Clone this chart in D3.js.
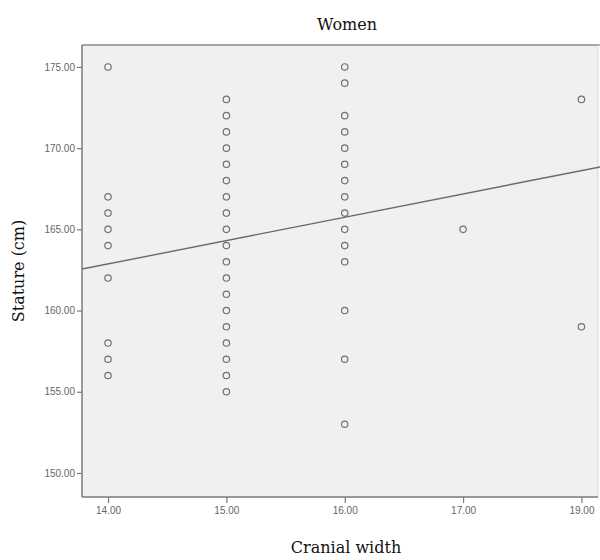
<!DOCTYPE html>
<html>
<head>
<meta charset="utf-8">
<script src="https://cdn.jsdelivr.net/npm/d3@7"></script>
<style>
  html, body { margin: 0; padding: 0; background: #fff; }
  svg { display: block; }
</style>
</head>
<body>
<svg id="chart" width="600" height="560"></svg>
<script>
// ---- Data ----
const xCategories = [14, 15, 16, 17, 19];          // cranial width categories (axis positions in order)
const yTicks = [150, 155, 160, 165, 170, 175];      // stature tick values
const stature14 = [175, 167, 166, 165, 164, 162, 158, 157, 156];
const stature15 = [173, 172, 171, 170, 169, 168, 167, 166, 165, 164, 163, 162, 161, 160, 159, 158, 157, 156, 155];
const stature16 = [175, 174, 172, 171, 170, 169, 168, 167, 166, 165, 164, 163, 160, 157, 153];
const stature17 = [165];
const stature19 = [173, 159];
const staturesByCategory = [stature14, stature15, stature16, stature17, stature19];
// fitted line (x measured as category position index)
const fitIntercept = 162.87;
const fitSlope = 1.437;

const titleText = "Women";
const xLabel = "Cranial width";
const yLabel = "Stature (cm)";

// ---- Layout ----
const svg = d3.select("#chart");
const pLeft = 82, pRight = 598, pTop = 45, pBottom = 497;

const x = d3.scaleLinear().domain([-0.22, 4.14]).range([pLeft, pRight]);
const y = d3.scaleLinear().domain([148.52, 176.35]).range([pBottom, pTop]);

const points = [];
staturesByCategory.forEach((arr, i) => arr.forEach(v => points.push({ i, v })));

// plot background
svg.append("rect")
  .attr("x", pLeft).attr("y", pTop)
  .attr("width", pRight - pLeft).attr("height", pBottom - pTop)
  .attr("fill", "#f0f0f0");

// frame lines
svg.append("line").attr("x1", pLeft).attr("x2", 600).attr("y1", pTop).attr("y2", pTop)
  .attr("stroke", "#8a8a8a").attr("stroke-width", 1.5);
svg.append("line").attr("x1", pRight).attr("x2", pRight).attr("y1", pTop).attr("y2", pBottom)
  .attr("stroke", "#d6d6d6").attr("stroke-width", 1);

svg.append("clipPath").attr("id", "plotclip")
  .append("rect").attr("x", pLeft).attr("y", pTop).attr("width", 600 - pLeft).attr("height", pBottom - pTop);

// fit line
const plot = svg.append("g").attr("clip-path", "url(#plotclip)");
const xd = x.domain();
plot.append("line")
  .attr("x1", x(xd[0])).attr("y1", y(fitIntercept + fitSlope * xd[0]))
  .attr("x2", x(xd[1] + 0.1)).attr("y2", y(fitIntercept + fitSlope * (xd[1] + 0.1)))
  .attr("stroke", "#6a6a6a").attr("stroke-width", 1.4);

// points
plot.selectAll("circle.pt").data(points).join("circle")
  .attr("class", "pt")
  .attr("cx", d => x(d.i)).attr("cy", d => y(d.v))
  .attr("r", 3.2)
  .attr("fill", "none")
  .attr("stroke", "#707070")
  .attr("stroke-width", 1.2);

// axes
const fmt = d3.format(".2f");
const yAxis = svg.append("g").attr("transform", `translate(${pLeft},0)`)
  .call(d3.axisLeft(y).tickValues(yTicks).tickFormat(fmt).tickSize(5).tickPadding(2));
const xAxis = svg.append("g").attr("transform", `translate(0,${pBottom})`)
  .call(d3.axisBottom(x).tickValues(d3.range(xCategories.length))
    .tickFormat(i => fmt(xCategories[i])).tickSize(6).tickPadding(4));

[yAxis, xAxis].forEach(g => {
  g.select(".domain").attr("stroke", "#7a7a7a").attr("stroke-width", 1.5);
  g.selectAll(".tick line").attr("stroke", "#7a7a7a").attr("stroke-width", 1.2);
  g.selectAll(".tick text")
    .attr("fill", "#666")
    .style("font-family", "'Liberation Sans', Arial, sans-serif")
    .style("font-size", "10px");
});
yAxis.select(".domain").attr("d", `M0,${pTop}V${pBottom}`);
xAxis.select(".domain").attr("d", `M${pLeft},0H${pRight}`);

// titles
const serif = "'DejaVu Serif', 'Liberation Serif', serif";
svg.append("text")
  .attr("x", 347).attr("y", 30)
  .attr("text-anchor", "middle")
  .style("font-family", serif).style("font-size", "16px").attr("fill", "#111")
  .text(titleText);
svg.append("text")
  .attr("x", 346).attr("y", 553)
  .attr("text-anchor", "middle")
  .style("font-family", serif).style("font-size", "16px").attr("fill", "#111")
  .text(xLabel);
svg.append("text")
  .attr("transform", `translate(24,${(pTop + pBottom) / 2}) rotate(-90)`)
  .attr("text-anchor", "middle")
  .style("font-family", serif).style("font-size", "16px").attr("fill", "#111")
  .text(yLabel);
</script>
</body>
</html>
